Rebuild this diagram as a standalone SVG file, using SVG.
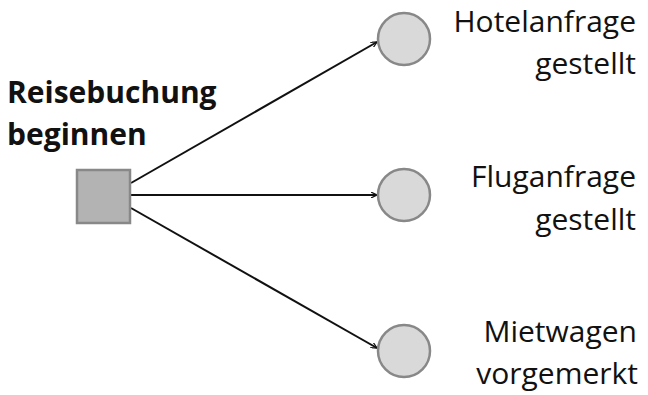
<svg xmlns="http://www.w3.org/2000/svg" width="648" height="395" viewBox="0 0 648 395">
<style>
.lbl{font-family:"Open Sans","Liberation Sans",Arial,sans-serif;font-size:30px;fill:#111}
.r{text-anchor:end}
.b{font-weight:bold}
.ev{fill:#d9d9d9;stroke:#888;stroke-width:2.5}
.con{stroke:#111;stroke-width:2;fill:none;marker-end:url(#ah)}
</style>
<defs>
<marker id="ah" viewBox="0 0 10 10" refX="10" refY="5" markerWidth="6" markerHeight="6" orient="auto" markerUnits="userSpaceOnUse">
<path d="M0,0 L10,5 L0,10" fill="none" stroke="#111" stroke-width="2"/>
</marker>
</defs>
<rect width="648" height="395" fill="#fff"/>
<g id="connectors">
<line class="con" x1="131" y1="183" x2="377" y2="42"/>
<line class="con" x1="131" y1="195" x2="377" y2="195"/>
<line class="con" x1="131" y1="208" x2="377" y2="348"/>
</g>
<g id="start">
<rect x="77" y="170" width="53" height="53" fill="#b3b3b3" stroke="#888" stroke-width="2.5"/>
<text class="lbl b" x="7" y="103">Reisebuchung</text>
<text class="lbl b" x="7" y="145">beginnen</text>
</g>
<g id="hotel">
<circle class="ev" cx="404" cy="39" r="26"/>
<text class="lbl r" x="636" y="32">Hotelanfrage</text>
<text class="lbl r" x="636" y="74">gestellt</text>
</g>
<g id="flug">
<circle class="ev" cx="404" cy="195" r="26"/>
<text class="lbl r" x="636" y="187">Fluganfrage</text>
<text class="lbl r" x="636" y="230">gestellt</text>
</g>
<g id="mietwagen">
<circle class="ev" cx="404" cy="351" r="26"/>
<text class="lbl r" x="637" y="342">Mietwagen</text>
<text class="lbl r" x="638" y="384">vorgemerkt</text>
</g>
</svg>
